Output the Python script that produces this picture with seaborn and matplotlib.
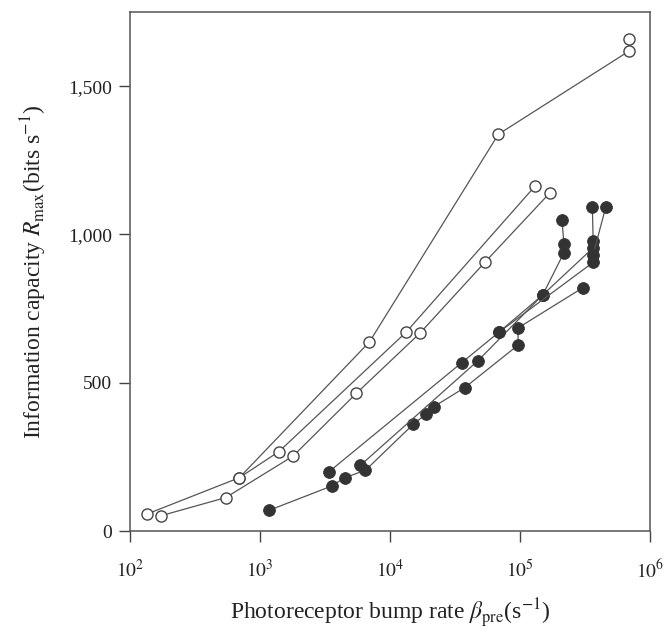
import matplotlib
matplotlib.use("Agg")
import matplotlib.pyplot as plt
import seaborn as sns
import pandas as pd

# ---- data ----
open_a_x = [136, 694, 6970, 68500, 697000, 697000]
open_a_y = [58, 180, 638, 1338, 1619, 1660]
open_b_x = [694, 1400, 13300, 131000]
open_b_y = [180, 268, 670, 1163]
open_c_x = [174, 546, 1800, 5510, 17100, 53800, 171000]
open_c_y = [52, 113, 253, 464, 668, 906, 1141]

fill_a_x = [1175, 3570, 4490, 6490, 15200, 19100, 21900, 37800, 97000, 97000, 307000]
fill_a_y = [70, 152, 180, 205, 361, 395, 420, 484, 627, 685, 821]
fill_b_x = [3400, 35800, 69300, 150000, 219000, 219000, 211000]
fill_b_y = [200, 568, 671, 796, 939, 967, 1049]
fill_c_x = [5940, 47800, 150000, 367000, 367000, 362000]
fill_c_y = [222, 575, 796, 955, 978, 1094]
fill_d_x = [69300, 367000, 367000, 460000]
fill_d_y = [671, 906, 932, 1094]

y_ticks = [0, 500, 1000, 1500]
y_tick_labels = ["0", "500", "1,000", "1,500"]
x_ticks = [1e2, 1e3, 1e4, 1e5, 1e6]
x_tick_labels = [r"$10^{2}$", r"$10^{3}$", r"$10^{4}$", r"$10^{5}$", r"$10^{6}$"]

# ---- style ----
sns.set_style("ticks")
plt.rcParams["font.family"] = ["Liberation Serif", "DejaVu Serif"]
plt.rcParams["mathtext.fontset"] = "stix"

fig = plt.figure(figsize=(6.65, 6.33), dpi=100)
ax = fig.add_axes([0.1955, 0.161, 0.7815, 0.820])

line_col = "#555555"
open_series = [(open_a_x, open_a_y), (open_b_x, open_b_y), (open_c_x, open_c_y)]
fill_series = [(fill_a_x, fill_a_y), (fill_b_x, fill_b_y), (fill_c_x, fill_c_y), (fill_d_x, fill_d_y)]

for xs, ys in fill_series:
    df = pd.DataFrame({"x": xs, "y": ys})
    sns.lineplot(data=df, x="x", y="y", ax=ax, sort=False, estimator=None,
                 color=line_col, lw=0.9, marker="o", markersize=8.5,
                 markerfacecolor="#333333", markeredgecolor="#333333", mew=0.6)

for xs, ys in open_series:
    df = pd.DataFrame({"x": xs, "y": ys})
    sns.lineplot(data=df, x="x", y="y", ax=ax, sort=False, estimator=None,
                 color=line_col, lw=0.9, marker="o", markersize=8,
                 markerfacecolor="white", markeredgecolor="#444444", mew=1.0)

ax.set_xscale("log")
ax.set_xlim(1e2, 1e6)
ax.set_ylim(0, 1750)
ax.set_xticks(x_ticks)
ax.set_xticklabels(x_tick_labels)
ax.minorticks_off()
ax.set_yticks(y_ticks)
ax.set_yticklabels(y_tick_labels)
ax.tick_params(axis="both", direction="out", length=8, width=1, colors="#444444",
               labelsize=14, labelcolor="#222222")
ax.tick_params(axis="x", pad=12)
ax.tick_params(axis="y", pad=5)
for s in ax.spines.values():
    s.set_visible(True)
    s.set_color("#555555")
    s.set_linewidth(1.1)

ax.set_xlabel(r"Photoreceptor bump rate $\beta_{\rm pre}$(s$^{-1}$)", fontsize=17,
              color="#222222", labelpad=11)
ax.set_ylabel(r"Information capacity $R_{\rm max}$(bits s$^{-1}$)", fontsize=17,
              color="#222222", labelpad=14)

fig.savefig("out.png", dpi=100)
